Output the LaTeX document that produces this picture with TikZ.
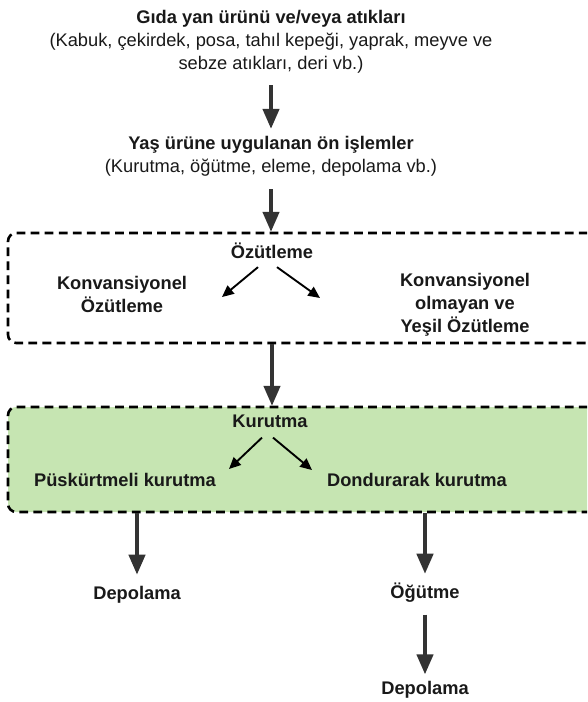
\documentclass[tikz,border=0pt]{standalone}
\usepackage{fontspec}
\setmainfont{Liberation Sans}
\usetikzlibrary{arrows.meta,fit}
\definecolor{kurugreen}{HTML}{C6E5B2}
\definecolor{okgray}{HTML}{333333}
\tikzset{
  bigarrow/.style={draw=okgray, line width=2.8pt, -{Triangle[width=14pt,length=17pt]}},
  smallarrow/.style={draw=black, line width=1.6pt, -{Triangle[width=9pt,length=10pt]}},
  dbox/.style={draw=black, line width=2.2pt, dash pattern=on 7.5pt off 4.5pt, rounded corners=7pt, inner sep=0pt},
  lbl/.style={inner sep=0pt, align=center, text=black!90, font=\fontsize{15.6}{19.6}\selectfont},
  blbl/.style={lbl, font=\fontsize{15.6}{19.6}\selectfont\bfseries},
}
\begin{document}
\begin{tikzpicture}[x=0.03cm,y=-0.03cm]
	\useasboundingbox (0,0) rectangle (587,702);
	\clip (0,0) rectangle (587,702);

	% Giris ve on islemler
	\node[lbl] (gida) at (271,42) {\textbf{Gıda yan ürünü ve/veya atıkları}\\(Kabuk, çekirdek, posa, tahıl kepeği, yaprak, meyve ve\\sebze atıkları, deri vb.)};
	\node[lbl] (onislem) at (271,156) {\textbf{Yaş ürüne uygulanan ön işlemler}\\(Kurutma, öğütme, eleme, depolama vb.)};
	\draw[bigarrow, shorten <=10pt, shorten >=6pt] (gida) -- (onislem);

	% Ozutleme kutusu
	\node[dbox, fit={(8,233) (610,343)}] (ozbox) {};
	\node[blbl] (ozut) at (272,251) {Özütleme};
	\node[blbl] (konv) at (122,294) {Konvansiyonel\\Özütleme};
	\node[blbl] (yesil) at (465,305) {Konvansiyonel\\olmayan ve\\Yeşil Özütleme};
	\coordinate (k1) at (222,297);
	\coordinate (y1) at (320,298);
	\draw[bigarrow, shorten <=11pt] (onislem) -- (onislem |- ozbox.north);
	\draw[smallarrow] ([shift={(-14,8)}]ozut.south) -- (k1);
	\draw[smallarrow] ([shift={(5,8)}]ozut.south) -- (y1);

	% Kurutma kutusu
	\node[dbox, fill=kurugreen, fit={(8,407) (610,512)}] (kbox) {};
	\node[blbl] (kurut) at (270,421) {Kurutma};
	\node[blbl] (puskurt) at (125,480) {Püskürtmeli kurutma};
	\node[blbl] (dondur) at (417,480) {Dondurarak kurutma};
	\coordinate (p1) at (229,469);
	\coordinate (d1) at (312,470);
	\draw[bigarrow] (ozut |- ozbox.south) -- (ozut |- kbox.north);
	\draw[smallarrow] ([shift={(-8,10)}]kurut.south) -- (p1);
	\draw[smallarrow] ([shift={(3,10)}]kurut.south) -- (d1);

	% Depolama ve ogutme
	\node[blbl] (depo1) at (137,595) {Depolama};
	\node[blbl] (ogut) at (425,593) {Öğütme};
	\node[blbl] (depo2) at (425,690) {Depolama};
	\draw[bigarrow, shorten >=10pt] (depo1 |- kbox.south) -- (depo1);
	\draw[bigarrow, shorten >=8pt] (ogut |- kbox.south) -- (ogut);
	\draw[bigarrow, shorten <=10pt, shorten >=6pt] (ogut) -- (depo2);
\end{tikzpicture}
\end{document}
